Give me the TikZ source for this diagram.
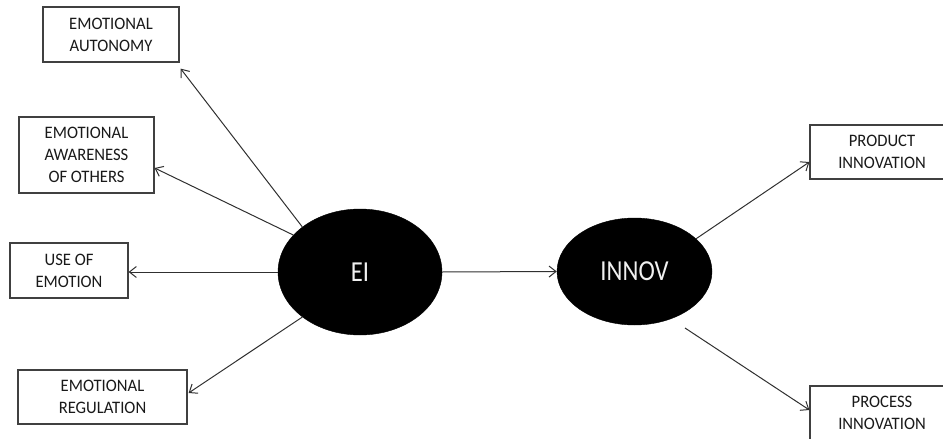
\documentclass[tikz,border=0pt]{standalone}
\usepackage{fontspec}
\setmainfont{Carlito}
\newfontfamily\labelfont[FakeStretch=0.95]{Carlito}
\newfontfamily\ovalfont[FakeStretch=0.85]{Carlito}
\usetikzlibrary{arrows.meta}
\definecolor{inkline}{HTML}{303030}
\definecolor{boxline}{HTML}{404040}
\definecolor{ovaltext}{HTML}{F0F0F0}
\tikzset{
  factor/.style={draw=boxline, line width=1.2pt, fill=white, align=center,
    inner sep=0pt, font=\labelfont\fontsize{17.5}{22}\selectfont, text=black!90},
  construct/.style={ellipse, fill=black, draw=black, inner sep=0pt,
    font=\ovalfont\fontsize{29}{32}\selectfont, text=ovaltext},
  link/.style={draw=inkline, line width=1pt,
    -{Straight Barb[length=7pt,width=11pt,line width=1pt]}}
}
\usetikzlibrary{shapes.geometric}
\begin{document}
\begin{tikzpicture}[x=1pt,y=-1pt]
  \useasboundingbox (0,0) rectangle (943,439);
  \clip (0,0) rectangle (943,439);

  % central constructs
  \node[construct, minimum width=164pt, minimum height=126pt] (EI) at (360,272) {EI};
  \node[construct, minimum width=155pt, minimum height=107pt] (INNOV) at (634.5,271.5) {INNOV};

  % dimensions of emotional intelligence
  \node[factor, minimum width=136pt, minimum height=55pt] (aut) at (111,34.5) {EMOTIONAL\\AUTONOMY};
  \node[factor, minimum width=135pt, minimum height=76pt] (awr) at (86.5,155) {EMOTIONAL\\AWARENESS\\OF OTHERS};
  \node[factor, minimum width=118pt, minimum height=55pt] (use) at (69,270.5) {USE OF\\EMOTION};
  \node[factor, minimum width=169pt, minimum height=54pt] (reg) at (102.5,397) {EMOTIONAL\\REGULATION};

  % dimensions of innovation
  \node[factor, minimum width=144pt, minimum height=54pt] (prod) at (882,152) {PRODUCT\\INNOVATION};
  \node[factor, minimum width=144pt, minimum height=54pt] (proc) at (882,413) {PROCESS\\INNOVATION};

  % arrow end points on the boxes
  \coordinate (autTip) at ([shift={(1,6)}]aut.south east);
  \coordinate (awrTip) at ([shift={(0,13)}]awr.east);
  \coordinate (regTip) at ([shift={(1,-4)}]reg.east);
  \coordinate (prodTip) at ([shift={(0,10)}]prod.west);
  \coordinate (procTip) at ([shift={(0,-3)}]proc.west);
  \coordinate (procStart) at (685,328);

  \draw[link] (EI.142) -- (autTip);
  \draw[link] (EI.151) -- (awrTip);
  \draw[link] (EI.west) -- (EI.west -| use.east);
  \draw[link] (EI.218) -- (regTip);
  \draw[link] (EI.east) -- (INNOV.west);
  \draw[link] (INNOV.28) -- (prodTip);
  \draw[link] (procStart) -- (procTip);
\end{tikzpicture}
\end{document}
